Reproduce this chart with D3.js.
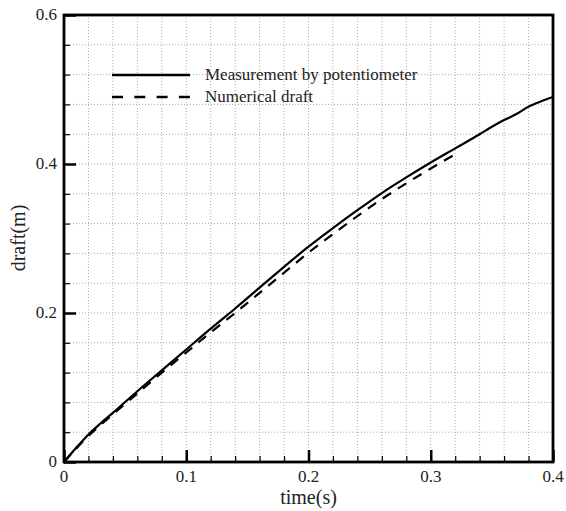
<!DOCTYPE html>
<html>
<head>
<meta charset="utf-8">
<script src="https://cdn.jsdelivr.net/npm/d3@7"></script>
<style>
  body { margin: 0; background: #fff; }
</style>
</head>
<body>
<div id="chart"></div>
<script>
var svgWidth = 566;
var svgHeight = 511;
var serif = "'Liberation Serif', 'Times New Roman', Times, 'DejaVu Serif', serif";

var margin = { top: 15, right: 13, bottom: 49, left: 64 };
var chartWidth = svgWidth - margin.left - margin.right;
var chartHeight = svgHeight - margin.top - margin.bottom;

// measured draft (potentiometer)
var measTime  = [0, 0.01, 0.02, 0.03, 0.04, 0.06, 0.08, 0.10, 0.12, 0.14, 0.16, 0.18, 0.20, 0.22, 0.24, 0.26, 0.28, 0.30, 0.32, 0.34, 0.35, 0.36, 0.37, 0.38, 0.39, 0.40];
var measDraft = [0, 0.019, 0.037, 0.052, 0.066, 0.095, 0.123, 0.151, 0.179, 0.206, 0.234, 0.262, 0.289, 0.314, 0.338, 0.361, 0.382, 0.402, 0.421, 0.440, 0.450, 0.459, 0.467, 0.477, 0.484, 0.490];

// numerical draft
var numTime  = [0, 0.02, 0.04, 0.06, 0.08, 0.10, 0.12, 0.14, 0.16, 0.18, 0.20, 0.22, 0.24, 0.26, 0.28, 0.30, 0.32];
var numDraft = [0, 0.035, 0.064, 0.092, 0.120, 0.147, 0.174, 0.200, 0.227, 0.254, 0.281, 0.306, 0.330, 0.353, 0.374, 0.394, 0.413];

var xTicks = [0, 0.1, 0.2, 0.3, 0.4];
var yTicks = [0, 0.2, 0.4, 0.6];
var xMinor = d3.range(0, 0.4001, 0.02);
var yMinor = d3.range(0, 0.6001, 0.04);

var legendLabels = ["Measurement by potentiometer", "Numerical draft"];

var svg = d3.select("#chart")
  .append("svg")
  .attr("width", svgWidth)
  .attr("height", svgHeight)
  .attr("font-family", serif);

var chartGroup = svg.append("g")
  .attr("transform", `translate(${margin.left}, ${margin.top})`);

var x = d3.scaleLinear().domain([0, 0.4]).range([0, chartWidth]);
var y = d3.scaleLinear().domain([0, 0.6]).range([chartHeight, 0]);

// dotted grid
chartGroup.append("g")
  .selectAll("line")
  .data(xMinor.slice(1, -1))
  .enter()
  .append("line")
  .attr("x1", d => x(d)).attr("x2", d => x(d))
  .attr("y1", 0).attr("y2", chartHeight)
  .attr("stroke", "#aaa")
  .attr("stroke-width", 1)
  .attr("stroke-dasharray", "1,2");

chartGroup.append("g")
  .selectAll("line")
  .data(yMinor.slice(1, -1))
  .enter()
  .append("line")
  .attr("x1", 0).attr("x2", chartWidth)
  .attr("y1", d => y(d)).attr("y2", d => y(d))
  .attr("stroke", "#aaa")
  .attr("stroke-width", 1)
  .attr("stroke-dasharray", "1,2");

// inward ticks on bottom and left
var bottomMinor = d3.axisTop(x).tickValues(xMinor).tickSize(6).tickFormat("");
var bottomMajor = d3.axisTop(x).tickValues(xTicks).tickSize(12).tickFormat("");
var leftMinor = d3.axisRight(y).tickValues(yMinor).tickSize(6).tickFormat("");
var leftMajor = d3.axisRight(y).tickValues(yTicks).tickSize(12).tickFormat("");

[bottomMinor, bottomMajor].forEach(function(ax, i) {
  var g = chartGroup.append("g")
    .attr("transform", `translate(0, ${chartHeight})`)
    .call(ax);
  g.select(".domain").remove();
  g.selectAll(".tick line").attr("stroke", "#000").attr("stroke-width", i ? 2.5 : 1.2);
});
[leftMinor, leftMajor].forEach(function(ax, i) {
  var g = chartGroup.append("g").call(ax);
  g.select(".domain").remove();
  g.selectAll(".tick line").attr("stroke", "#000").attr("stroke-width", i ? 2.5 : 1.2);
});

// tick labels
chartGroup.append("g")
  .selectAll("text")
  .data(xTicks)
  .enter()
  .append("text")
  .attr("x", d => x(d))
  .attr("y", chartHeight + 20)
  .attr("text-anchor", "middle")
  .attr("font-family", serif)
  .attr("font-size", 17)
  .attr("fill", "#222")
  .text(d => d === 0 ? "0" : d3.format(".1f")(d));

chartGroup.append("g")
  .selectAll("text")
  .data(yTicks)
  .enter()
  .append("text")
  .attr("x", -7)
  .attr("y", d => y(d) + 5)
  .attr("text-anchor", "end")
  .attr("font-family", serif)
  .attr("font-size", 17)
  .attr("fill", "#222")
  .text(d => d === 0 ? "0" : d3.format(".1f")(d));

// curves
var line = d3.line()
  .x(d => x(d[0]))
  .y(d => y(d[1]))
  .curve(d3.curveMonotoneX);

chartGroup.append("path")
  .datum(d3.zip(measTime, measDraft))
  .attr("d", line)
  .attr("fill", "none")
  .attr("stroke", "#000")
  .attr("stroke-width", 2.2);

chartGroup.append("path")
  .datum(d3.zip(numTime, numDraft))
  .attr("d", line)
  .attr("fill", "none")
  .attr("stroke", "#000")
  .attr("stroke-width", 2.2)
  .attr("stroke-dasharray", "10,8");

// frame
chartGroup.append("rect")
  .attr("width", chartWidth)
  .attr("height", chartHeight)
  .attr("fill", "none")
  .attr("stroke", "#000")
  .attr("stroke-width", 2.8);

// legend
var legend = svg.append("g");
legendLabels.forEach(function(label, i) {
  var ly = 75 + i * 22;
  legend.append("line")
    .attr("x1", 112).attr("x2", 190)
    .attr("y1", ly).attr("y2", ly)
    .attr("stroke", "#000")
    .attr("stroke-width", 2.4)
    .attr("stroke-dasharray", i ? "11,11.3" : null);
  legend.append("text")
    .attr("x", 205)
    .attr("y", ly + 5)
    .attr("font-family", serif)
    .attr("font-size", 17)
    .attr("fill", "#222")
    .text(label);
});

// axis titles
svg.append("text")
  .attr("x", margin.left + x(0.2))
  .attr("y", 504)
  .attr("text-anchor", "middle")
  .attr("font-family", serif)
  .attr("font-size", 20)
  .attr("fill", "#222")
  .text("time(s)");

svg.append("text")
  .attr("transform", `translate(25, 238) rotate(-90)`)
  .attr("text-anchor", "middle")
  .attr("font-family", serif)
  .attr("font-size", 20)
  .attr("fill", "#222")
  .text("draft(m)");
</script>
</body>
</html>
